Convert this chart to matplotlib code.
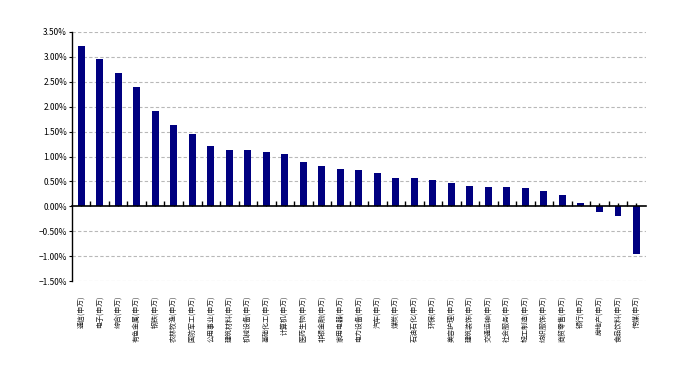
import matplotlib.pyplot as plt
import numpy as np
from matplotlib.ticker import PercentFormatter, MultipleLocator
import matplotlib.transforms as mtransforms

plt.rcParams['font.family'] = ['Noto Sans CJK SC', 'DejaVu Sans']

# Data
industries = ["通信", "电子", "综合", "有色金属", "钢铁", "农林牧渔", "国防军工", "公用事业",
              "建筑材料", "机械设备", "基础化工", "计算机", "医药生物", "非银金融", "家用电器",
              "电力设备", "汽车", "煤炭", "石油石化", "环保", "美容护理", "建筑装饰", "交通运输",
              "社会服务", "轻工制造", "纺织服饰", "商贸零售", "银行", "房地产", "食品饮料", "传媒"]
labels = [f"{n}(申万)" for n in industries]
returns = [3.21, 2.95, 2.67, 2.39, 1.91, 1.63, 1.45, 1.21, 1.13, 1.13, 1.09, 1.06, 0.88,
           0.80, 0.74, 0.72, 0.66, 0.56, 0.56, 0.52, 0.46, 0.40, 0.38, 0.38, 0.37, 0.31,
           0.22, 0.06, -0.11, -0.19, -0.95]

fig = plt.figure(figsize=(6.81, 3.85), dpi=100)
ax = fig.add_axes([0.1057, 0.270, 0.8423, 0.647])

x = np.arange(len(returns))
ax.bar(x, returns, width=0.36, color='#000080', zorder=3)

ax.set_xlim(-0.5, len(returns) - 0.5)
ax.set_ylim(-1.5, 3.5)
ax.yaxis.set_major_locator(MultipleLocator(0.5))
ax.yaxis.set_major_formatter(PercentFormatter(decimals=2))

# dashed gridlines except zero
for v in np.arange(-1.5, 3.51, 0.5):
    if abs(v) > 1e-9:
        ax.axhline(v, color='#b8b8b8', linestyle=(0, (3, 2)), linewidth=0.8, zorder=1)

for s in ['top', 'right']:
    ax.spines[s].set_visible(False)
ax.spines['bottom'].set_position(('data', 0))
ax.spines['bottom'].set_linewidth(1.2)
ax.spines['bottom'].set_zorder(4)
ax.spines['left'].set_linewidth(1.0)

ax.set_xticks(x[:-1] + 0.5)
ax.set_xticks(x, minor=True)
ax.tick_params(axis='x', which='major', direction='in', length=3.5, width=1, labelbottom=False)
ax.tick_params(axis='x', which='minor', direction='in', length=2.5, width=1, labelbottom=False)
ax.tick_params(axis='y', direction='out', length=2, width=0.8, labelsize=6, pad=1.5)

trans = mtransforms.blended_transform_factory(ax.transData, ax.transAxes)
for xi, lab in zip(x, labels):
    ax.text(xi, -0.06, lab, transform=trans, rotation=90, ha='center', va='top',
            fontsize=5, color='#222222')

fig.savefig('out.png', dpi=100)
